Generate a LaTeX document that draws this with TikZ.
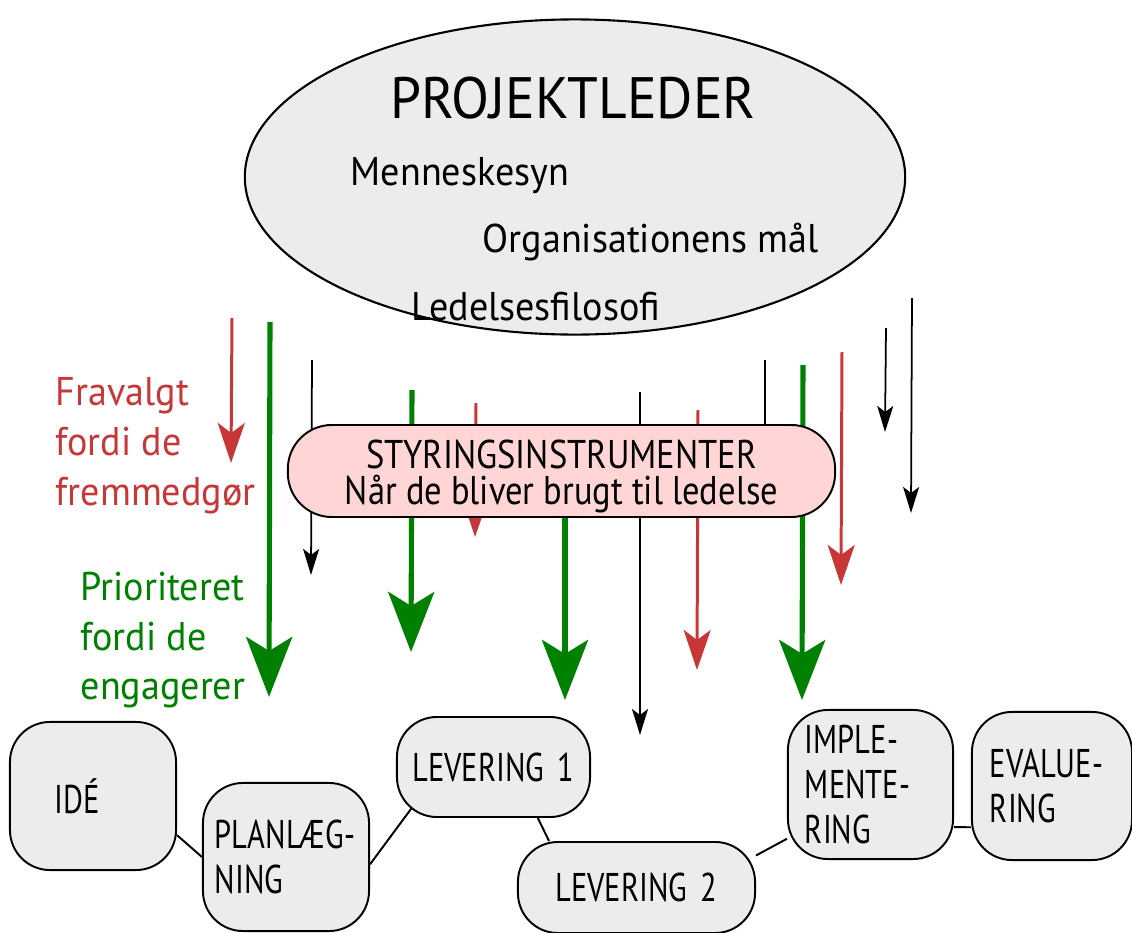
\documentclass[tikz,border=0pt]{standalone}
\usepackage{fontspec}
\setmainfont[FakeStretch=0.95]{PT Sans}
\newfontfamily\stagefont[FakeStretch=0.76]{PT Sans}
\newfontfamily\toolfont[FakeStretch=0.86]{PT Sans}
\usetikzlibrary{positioning}
\usetikzlibrary{arrows.meta}
\usetikzlibrary{shapes,backgrounds}
\definecolor{rejectred}{HTML}{C83737}
\definecolor{engagegreen}{HTML}{008000}
\definecolor{toolpink}{HTML}{FFD5D5}
\definecolor{boxgray}{HTML}{ECECEC}
\tikzset{stage node/.style={draw,line width=0.55pt,fill=boxgray,rounded corners=0.4cm,font=\stagefont\fontsize{11.4}{12.7}\selectfont,align=left,inner ysep=0pt},
  green arrow/.style={color=engagegreen,line width=1.45pt,-{Stealth[length=0.6cm,width=0.46cm,inset=0.14cm]}},
  red arrow/.style={color=rejectred,line width=0.85pt,-{Stealth[length=0.4cm,width=0.27cm,inset=0.1cm]}},
  black arrow/.style={color=black,line width=0.5pt,-{Stealth[length=0.26cm,width=0.16cm,inset=0.06cm]}},
  label text/.style={font=\fontsize{11.4}{14.2}\selectfont,inner sep=0pt,align=left}}

\begin{document}
\begin{tikzpicture}[x=0.01cm,y=-0.01cm]
    \useasboundingbox (0,0) rectangle (1132,933);

    % projektleder
    \node[ellipse,draw,line width=0.6pt,fill=boxgray,minimum width=6.6cm,minimum height=3.15cm] (leader) at (575,177) {};
    \node[label text,font=\fontsize{16.6}{18}\selectfont,anchor=base] (title) at (573,118) {PROJEKTLEDER};
    \node[label text,anchor=base west] (view) at (350,185) {Menneskesyn};
    \node[label text,anchor=base west] (goal) at (482,252) {Organisationens mål};
    \node[label text,anchor=base west] (philo) at (411,320) {Ledelsesfilosofi};

    \node[label text,text=rejectred,anchor=north west] (reject) at (55,377) {Fravalgt\\fordi de\\fremmedgør};
    \node[label text,text=engagegreen,anchor=north west] (engage) at (80,571) {Prioriteret\\fordi de\\engagerer};

    % arrows
    \coordinate (r1s) at (232,318); \coordinate (r1e) at (231,463);
    \coordinate (g1s) at (270,322); \coordinate (g1e) at (269,697);
    \coordinate (k1s) at (312,360); \coordinate (k1e) at (311,575);
    \coordinate (g2s) at (412,390); \coordinate (g2e) at (411,652);
    \coordinate (r2s) at (476,403); \coordinate (r2e) at (475,537);
    \coordinate (g3s) at (565,470); \coordinate (g3e) at (565,700);
    \coordinate (k2s) at (640,392); \coordinate (k2e) at (640,735);
    \coordinate (r3s) at (698,410); \coordinate (r3e) at (697,670);
    \coordinate (k3s) at (765,360); \coordinate (k3e) at (765,480);
    \coordinate (g4s) at (803,365); \coordinate (g4e) at (802,700);
    \coordinate (r4s) at (842,352); \coordinate (r4e) at (841,585);
    \coordinate (k4s) at (886,328); \coordinate (k4e) at (885,432);
    \coordinate (k5s) at (912,298); \coordinate (k5e) at (911,513);

    \path
    (r1s) edge[red arrow] (r1e)
    (r2s) edge[red arrow] (r2e)
    (r3s) edge[red arrow] (r3e)
    (r4s) edge[red arrow] (r4e)
    (k1s) edge[black arrow] (k1e)
    (k2s) edge[black arrow] (k2e)
    (k3s) edge[black arrow] (k3e)
    (k4s) edge[black arrow] (k4e)
    (k5s) edge[black arrow] (k5e)
    (g1s) edge[green arrow] (g1e)
    (g2s) edge[green arrow] (g2e)
    (g3s) edge[green arrow] (g3e)
    (g4s) edge[green arrow] (g4e);

    \node[draw,line width=0.55pt,fill=toolpink,rounded corners=0.44cm,minimum width=5.47cm,minimum height=0.92cm,align=center,inner sep=0pt,font=\toolfont\fontsize{11.4}{10.2}\selectfont] (tools) at (561.5,471) {\rule{0pt}{11.4pt}STYRINGSINSTRUMENTER\\Når de bliver brugt til ledelse};

    % faser
    \node[stage node,minimum height=1.48cm,inner xsep=0.45cm,text width=0.76cm] (ide) at (93,796) {IDÉ};
    \node[stage node,minimum height=1.48cm,inner xsep=0.12cm,text width=1.42cm] (plan) at (286,857) {PLANLÆG-\\NING};
    \node[stage node,minimum height=1.0cm,inner xsep=0.08cm,text width=1.77cm,align=center] (levone) at (493.5,767) {LEVERING 1};
    \node[stage node,minimum height=0.91cm,inner xsep=0.2cm,text width=1.97cm,align=center] (levtwo) at (636.5,887.5) {LEVERING 2};
    \node[stage node,minimum height=1.49cm,inner xsep=0.17cm,text width=1.31cm] (impl) at (870.5,784.5) {IMPLE-\\MENTE-\\RING};
    \node[stage node,minimum height=1.48cm,inner xsep=0.18cm,text width=1.24cm] (eval) at (1052,786) {EVALUE-\\RING};

    \begin{scope}[on background layer]
    \path[draw,line width=0.55pt]
    (ide.-25) edge (plan.west)
    (plan.-5) edge ([shift={(0.32cm,0.32cm)}]levone.south west)
    (levone.-49) edge (levtwo.152)
    (levtwo.15) edge (impl.213)
    (impl.-27) edge (eval.207);
    \end{scope}
\end{tikzpicture}
\end{document}
